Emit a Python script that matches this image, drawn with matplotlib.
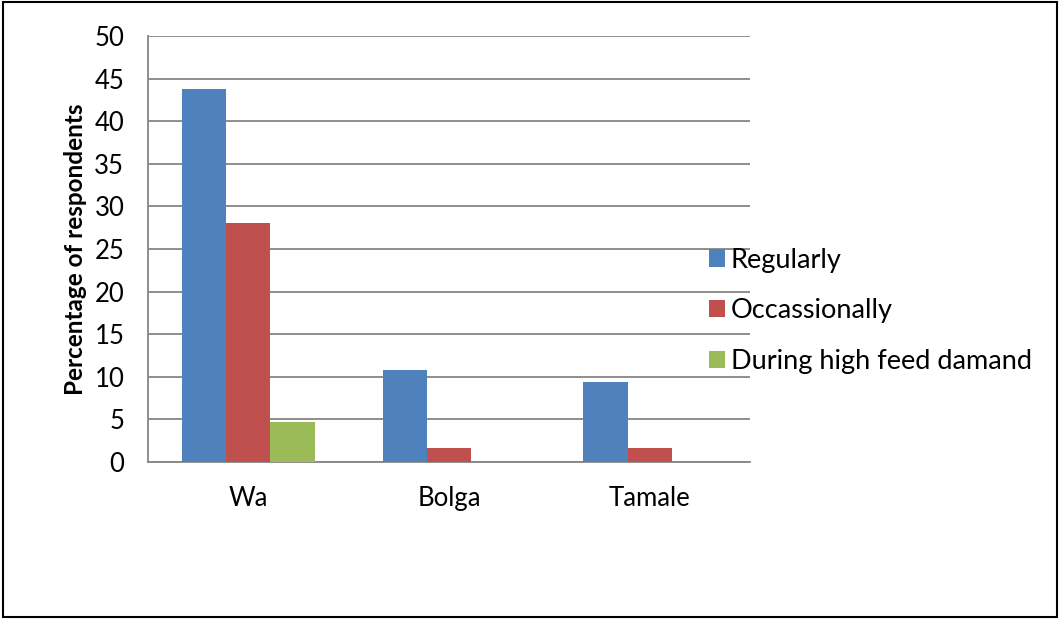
import numpy as np
import matplotlib.pyplot as plt

# Data
towns = ["Wa", "Bolga", "Tamale"]
regularly = [43.8, 10.8, 9.4]
occasionally = [28.1, 1.6, 1.6]
high_demand = [4.7, 0, 0]
series_names = ["Regularly", "Occassionally", "During high feed damand"]
colors = ["#4F81BD", "#C0504D", "#9BBB59"]

plt.rcParams['font.family'] = ['Lato', 'DejaVu Sans']

fig = plt.figure(figsize=(10.6, 6.19), dpi=100)
ax = fig.add_axes([0.1396, 0.2536, 0.568, 0.6882])

x = np.arange(len(towns))
w = 0.22
handles = []
for i, (vals, name, c) in enumerate(zip([regularly, occasionally, high_demand], series_names, colors)):
    b = ax.bar(x + (i - 1) * w, vals, width=w, color=c, label=name, zorder=3)
    handles.append(b)

ax.set_xlim(-0.5, 2.5)
ax.set_ylim(0, 50)
ax.set_yticks(np.arange(0, 51, 5))
ax.set_xticks(x)
ax.set_xticklabels(towns, fontsize=18.5)
ax.tick_params(axis='y', labelsize=18.5, length=0, pad=17)
ax.tick_params(axis='x', length=0, pad=17)
ax.grid(axis='y', color='#868686', linewidth=1.3, zorder=0)
for s in ['top', 'right']:
    ax.spines[s].set_visible(False)
for s in ['left', 'bottom']:
    ax.spines[s].set_color('#868686')
    ax.spines[s].set_linewidth(1.3)
ax.set_ylabel("Percentage of respondents", fontsize=17.5, fontweight='bold', labelpad=5)

fig.legend(handles=handles, labels=series_names, loc='center left',
           bbox_to_anchor=(0.646, 0.498), frameon=False, fontsize=19.5,
           handlelength=0.6, handleheight=0.6, handletextpad=0.2,
           labelspacing=0.95)

# outer border
fig.patches.append(plt.Rectangle((0.003, 0.003), 0.994, 0.994, transform=fig.transFigure,
                                 fill=False, edgecolor='black', linewidth=1.5))

fig.savefig("out.png", dpi=100)
